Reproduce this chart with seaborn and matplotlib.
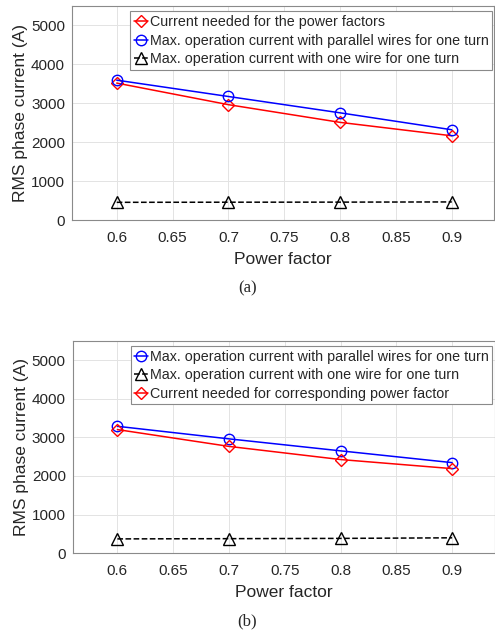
import matplotlib
matplotlib.use("Agg")
import matplotlib.pyplot as plt
import seaborn as sns
import pandas as pd

pf = [0.6, 0.7, 0.8, 0.9]

# Panel (a)
a_needed = [3520, 2965, 2510, 2165]
a_parallel = [3595, 3175, 2755, 2320]
a_onewire = [455, 458, 460, 465]

# Panel (b)
b_parallel = [3285, 2960, 2650, 2345]
b_onewire = [372, 378, 385, 400]
b_needed = [3200, 2765, 2425, 2190]

lab_needed_a = "Current needed for the power factors"
lab_par = "Max. operation current with parallel wires for one turn"
lab_one = "Max. operation current with one wire for one turn"
lab_needed_b = "Current needed for corresponding power factor"

sns.set_style("white")
plt.rcParams['font.family'] = ['Liberation Sans', 'DejaVu Sans']

fig = plt.figure(figsize=(4.95, 6.35), dpi=100)
ax1 = fig.add_axes([0.1455, 0.6535, 0.853, 0.337])
ax2 = fig.add_axes([0.147, 0.1287, 0.852, 0.3348])

def style(ax):
    ax.set_xlim(0.56, 0.938)
    ax.set_ylim(0, 5500)
    ax.set_xticks([0.6, 0.65, 0.7, 0.75, 0.8, 0.85, 0.9])
    ax.set_xticklabels(["0.6", "0.65", "0.7", "0.75", "0.8", "0.85", "0.9"])
    ax.set_yticks([0, 1000, 2000, 3000, 4000, 5000])
    ax.grid(True, color="#e3e3e3", linewidth=0.7)
    ax.set_axisbelow(True)
    for s in ax.spines.values():
        s.set_color("#8a8a8a")
        s.set_linewidth(0.8)
    ax.tick_params(direction="in", length=3, labelsize=11, colors="#262626",
                   color="#8a8a8a")
    ax.tick_params(axis="x", pad=8)
    ax.tick_params(axis="y", pad=5)
    ax.set_xlabel("Power factor", fontsize=12.5, color="#262626", labelpad=5)
    ax.set_ylabel("RMS phase current (A)", fontsize=12.5, color="#262626", labelpad=2)

def line(ax, y, color, marker, label, ls="-", ms=7.5):
    df = pd.DataFrame({"pf": pf, "I": y})
    sns.lineplot(data=df, x="pf", y="I", ax=ax, color=color, marker=marker,
                 markersize=ms, markerfacecolor="none", markeredgecolor=color,
                 markeredgewidth=1.0, linewidth=1.1, linestyle=ls, label=label)

line(ax1, a_needed, "#ff0000", "D", lab_needed_a, ms=6.5)
line(ax1, a_parallel, "#0000ff", "o", lab_par)
line(ax1, a_onewire, "#000000", "^", lab_one, ls="--", ms=8)

line(ax2, b_parallel, "#0000ff", "o", lab_par)
line(ax2, b_onewire, "#000000", "^", lab_one, ls="--", ms=8)
line(ax2, b_needed, "#ff0000", "D", lab_needed_b, ms=6.5)

for ax in (ax1, ax2):
    style(ax)
    leg = ax.legend(loc="upper right", fontsize=10.3, frameon=True, fancybox=False,
                    framealpha=1, edgecolor="#8a8a8a", handlelength=0.95,
                    handletextpad=0.15, borderpad=0.25, labelspacing=0.32,
                    borderaxespad=0.15, bbox_to_anchor=(1.0, 0.985))
    leg.get_frame().set_linewidth(0.8)

fig.text(0.5, 1 - 288 / 635, "(a)", ha="center", va="center",
         fontsize=12, family=["Liberation Serif"])
fig.text(0.5, 1 - 621 / 635, "(b)", ha="center", va="center",
         fontsize=12, family=["Liberation Serif"])

fig.savefig("out.png", dpi=100)
